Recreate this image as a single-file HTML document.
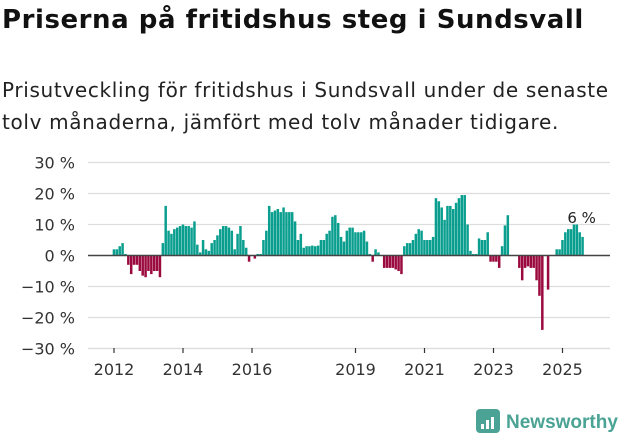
<!DOCTYPE html>
<html><head><meta charset="utf-8"><style>
body{margin:0;width:631px;height:439px;background:#fff;font-family:"Liberation Sans","DejaVu Sans",sans-serif;overflow:hidden}
#title{position:absolute;left:2px;top:5px;font-size:26px;font-weight:bold;color:#111;margin:0;font-family:"DejaVu Sans",sans-serif;letter-spacing:0.55px;white-space:nowrap}
#sub{position:absolute;left:2px;top:74px;font-size:20px;line-height:32px;color:#222;margin:0;font-family:"DejaVu Sans",sans-serif;letter-spacing:0.66px;white-space:nowrap}
svg{position:absolute;left:0;top:0}
</style></head><body>
<h1 id="title">Priserna på fritidshus steg i Sundsvall</h1>
<p id="sub">Prisutveckling för fritidshus i Sundsvall under de senaste<br>tolv månaderna, jämfört med tolv månader tidigare.</p>
<svg id="chart" width="631" height="439"></svg>
<script>
const values=[2,2,3,4,0.5,-3,-6,-3,-3,-5,-6.5,-7,-5,-6,-5,-5,-7,4,16,8,7,8.5,9,9.5,10,9.5,9.5,9,11,3.5,1,5,2,1.5,4,5,6.5,8.5,9.5,9.5,9,8,2,7,9.5,5,2.5,-2,0,-1,0.5,0.5,5,8,16,14,14.5,15,14,15.5,14,14,14,11,5,7,2.5,3,3,3.2,3,3.2,5,5,7,8,12.5,13,10.5,6,4.5,8,9,9,7.5,7.5,7.5,8,4.5,0.5,-2,2,1,0,-4,-4,-4,-4,-4.5,-5,-6,3,4,4,5,7,8.5,8,5,5,5,6,18.5,17.5,15.5,11.5,16,16,15,17,18.5,19.5,19.5,10,1.5,0.5,0.5,5.5,5,5,7.5,-2,-2,-2,-4,3,9.7,13,0,0,0,-4,-8,-4,-3.5,-4,-4,-8,-13,-24,0,-11,0,0,2,2,5,7.5,8.5,8.5,10,10,7.5,6];
const yTicks=[30,20,10,0,-10,-20,-30];
const yTickLabels=["30 %","20 %","10 %","0 %","−10 %","−20 %","−30 %"];
const xYears=[2012,2014,2016,2019,2021,2023,2025];
const startYear=2012;
const lastLabel="6 %";
const NS="http://www.w3.org/2000/svg";
const svg=document.getElementById('chart');
const y=v=>255.5-v*3.1;
const x=m=>114+m*2.875;
function mk(t,a){const e=document.createElementNS(NS,t);for(const k in a)e.setAttribute(k,a[k]);svg.appendChild(e);return e;}
yTicks.forEach((t,i)=>{
 if(t!==0){const g=mk('line',{x1:88,x2:610,y1:y(t),y2:y(t),stroke:'#dddddd','stroke-width':1.2});
 
 }
 const tx=mk('text',{x:75,y:y(t)+6,'text-anchor':'end','font-size':16,fill:'#333','font-family':'DejaVu Sans, sans-serif'});
 tx.textContent=yTickLabels[i];
 
 
});
values.forEach((v,i)=>{
 const r=mk('rect',{x:x(i)-1.3,width:2.5,y:Math.min(y(v),y(0)),height:Math.abs(y(v)-y(0)),fill:v>=0?'#0a9e8f':'#9b0a3e'});
 
 
});
const z=mk('line',{x1:88,x2:610,y1:y(0),y2:y(0),stroke:'#444','stroke-width':1.6});


const bl=mk('line',{x1:88,x2:610,y1:348.5,y2:348.5,stroke:'#dddddd','stroke-width':1.2});


xYears.forEach(yr=>{
 const px=x((yr-startYear)*12);
 const tk=mk('line',{x1:px,x2:px,y1:348,y2:353,stroke:'#333','stroke-width':1.2});
 
 
 const t=mk('text',{x:px,y:375,'text-anchor':'middle','font-size':16,fill:'#333','font-family':'DejaVu Sans, sans-serif'});
 t.textContent=yr;
 
 
});
const li=values.length-1;
const lt=mk('text',{x:x(li)-1,y:y(values[li]+4.5),'text-anchor':'middle','font-size':15,fill:'#222','font-family':'DejaVu Sans, sans-serif'});
lt.textContent=lastLabel;


const lg=mk('g',{});


const ic=document.createElementNS(NS,'rect');
ic.setAttribute('x',476);ic.setAttribute('y',409);ic.setAttribute('width',24);ic.setAttribute('height',24);ic.setAttribute('rx',4);ic.setAttribute('fill','#4aa394');
lg.appendChild(ic);
[[481,424,3,5],[486,420,3,9],[491,417,3,12]].forEach(b=>{const r=document.createElementNS(NS,'rect');r.setAttribute('x',b[0]);r.setAttribute('y',b[1]);r.setAttribute('width',b[2]);r.setAttribute('height',b[3]);r.setAttribute('fill','#fff');lg.appendChild(r);});
const lw=document.createElementNS(NS,'text');
lw.setAttribute('x',506);lw.setAttribute('y',428);lw.setAttribute('font-size',19);lw.setAttribute('font-weight','bold');lw.setAttribute('fill','#4aa394');lw.setAttribute('font-family','Liberation Sans, sans-serif');
lw.textContent='Newsworthy';
lg.appendChild(lw);
</script>
</body></html>
